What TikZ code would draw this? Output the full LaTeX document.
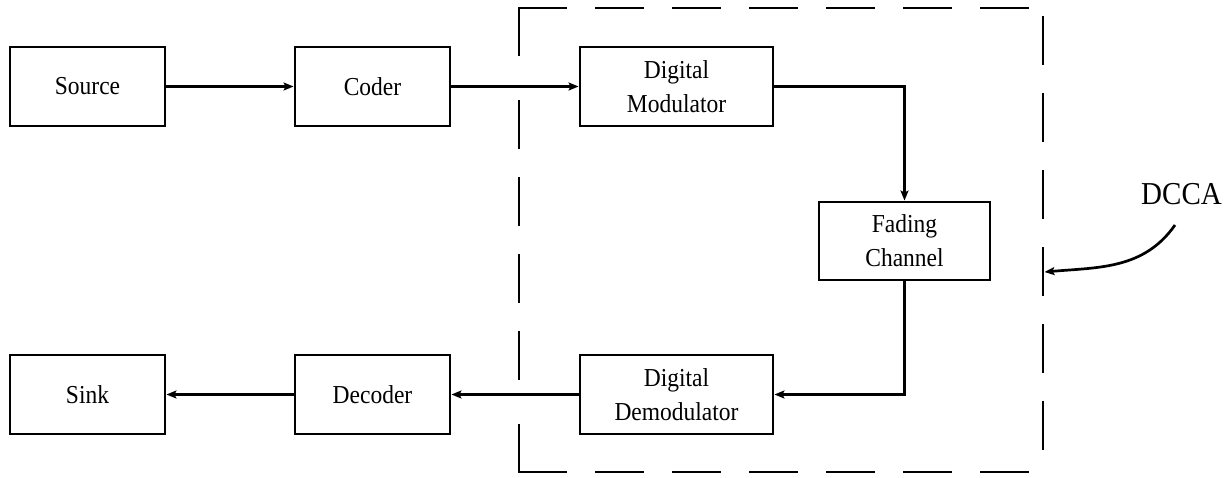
\documentclass[tikz,border=0pt]{standalone}
\usepackage{fontspec}
\usepackage{graphicx}
\setmainfont{Liberation Serif}
\usetikzlibrary{arrows.meta}
\newcommand{\vst}[1]{\scalebox{1}[1.1]{#1}}
\begin{document}
\begin{tikzpicture}[x=1pt,y=-1pt,
  blk/.style={draw, line width=2.9pt, inner sep=0pt, minimum height=79pt, align=center,
    font=\fontsize{23.5}{34}\selectfont},
  conn/.style={line width=2.7pt, -{Stealth[length=10pt,width=8pt,inset=2pt]}},
  dashside/.style={line width=2.7pt, line cap=rect}]
\useasboundingbox (0,0) rectangle (1231,477);
% blocks
\node[blk, minimum width=155pt] (src) at (87.5,86.5) {\vst{Source}};
\node[blk, minimum width=155pt] (coder) at (372.5,86.5) {\vst{Coder}};
\node[blk, minimum width=193pt] (mod) at (676.5,86.5) {\vst{Digital}\\\vst{Modulator}};
\node[blk, minimum width=171pt, minimum height=78pt] (fad) at (904.5,241) {\vst{Fading}\\\vst{Channel}};
\node[blk, minimum width=193pt] (demod) at (676.5,394.5) {\vst{Digital}\\\vst{Demodulator}};
\node[blk, minimum width=155pt] (dec) at (372.5,394.5) {\vst{Decoder}};
\node[blk, minimum width=155pt] (sink) at (87.5,394.5) {\vst{Sink}};
% connectors
\draw[conn] (src) -- (coder);
\draw[conn] (coder) -- (mod);
\draw[conn] (mod.east) -| (fad.north);
\draw[conn] (fad.south) |- (demod.east);
\draw[conn] (demod) -- (dec);
\draw[conn] (dec) -- (sink);
% dashed DCCA boundary
\draw[dashside, dash pattern=on 47pt off 30pt] (519,8) -- (1043,8);
\draw[dashside, dash pattern=on 47pt off 30pt, dash phase=68pt] (1043,8) -- (1043,472);
\draw[dashside, dash pattern=on 47pt off 30pt] (519,472) -- (1043,472);
\draw[dashside, dash pattern=on 47pt off 46pt on 47pt off 30pt on 47pt off 30pt on 47pt off 30pt on 47pt off 46pt on 47pt off 100pt] (519,8) -- (519,472);
% DCCA label
\node[font=\fontsize{29}{35}\selectfont, anchor=base, inner sep=0pt] (dcca) at (1181.5,204) {\vst{DCCA}};
\coordinate (dccastart) at (1175,225);
\coordinate (dccaend) at (1044.5,272);
\draw[conn] (dccastart) to[out=-125,in=5] (dccaend);
\end{tikzpicture}
\end{document}
